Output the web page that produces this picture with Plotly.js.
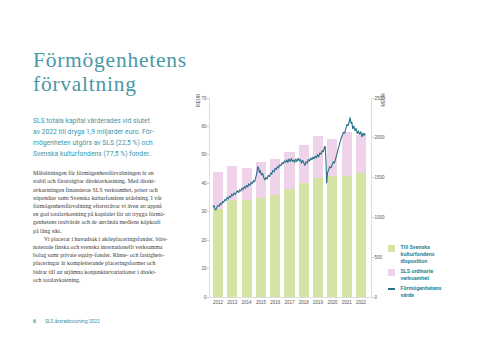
<!DOCTYPE html>
<html>
<head>
<meta charset="utf-8">
<script src="https://cdn.plot.ly/plotly-3.0.1.min.js"></script>
<style>
  html, body { margin:0; padding:0; background:#fff; }
  #page { position:relative; width:480px; height:340px; overflow:hidden; background:#fff; }
  #chart { position:absolute; left:0; top:0; width:480px; height:340px; }
  .title { position:absolute; left:33px; font-family:"Liberation Serif", serif; font-size:21.5px; line-height:normal; color:#4a98a5; letter-spacing:0.75px; white-space:nowrap; }
  .intro { position:absolute; left:33px; top:115.5px; font-family:Roboto, sans-serif; font-size:6.7px; line-height:11.2px; color:#3a96a8; white-space:nowrap; letter-spacing:0.05px; }
  .body { position:absolute; left:33px; top:169.2px; font-family:"Liberation Serif", serif; font-size:5.9px; line-height:8.2px; color:#3a3a3a; white-space:nowrap; }
  .footer { position:absolute; left:33px; top:318px; font-family:Roboto, sans-serif; font-size:5px; color:#3a96a8; white-space:nowrap; }
  .legend { position:absolute; left:388px; top:244px; font-family:Roboto, sans-serif; font-size:5.4px; line-height:7px; font-weight:bold; color:#2a8799; }
  .li { position:relative; padding-left:12.5px; margin-bottom:3px; white-space:nowrap; }
  .sw { position:absolute; left:0; top:1px; width:7px; height:7px; }
  .ln { position:absolute; left:0; top:3px; width:7px; height:1.6px; }
</style>
</head>
<body>
<div id="page">
  <div id="chart"></div>
  <div class="title" style="top:47.5px">Förmögenhetens</div>
  <div class="title" style="top:71.6px">förvaltning</div>
  <div class="intro">SLS totala kapital värderades vid slutet<br>av 2022 till dryga 1,9 miljarder euro. För-<br>mögenheten utgörs av SLS (22,5 %) och<br>Svenska kulturfondens (77,5 %) fonder.</div>
  <div class="body">Målsättningen för förmögenhetsförvaltningen är en<br>stabil och förutsägbar direktavkastning. Med direkt-<br>avkastningen finansieras SLS verksamhet, priser och<br>stipendier samt Svenska kulturfondens utdelning. I vår<br>förmögenhetsförvaltning eftersträvar vi även att uppnå<br>en god totalavkastning på kapitalet för att trygga förmö-<br>genhetens realvärde och de använda medlens köpkraft<br>på lång sikt.<br><span style="padding-left:11px">Vi placerar i huvudsak i aktieplaceringsfonder, börs-</span><br>noterade finska och svenska internationellt verksamma<br>bolag samt private equity-fonder. Ränte- och fastighets-<br>placeringar är kompletterande placeringsformer och<br>bidrar till att utjämna konjunkturvariationer i direkt-<br>och totalavkastning.</div>
  <div class="footer"><b>6</b><span style="padding-left:9px">SLS årsredovisning 2022</span></div>
  <div class="legend" id="legend"></div>
</div>
<script>
// Bars (MEUR, left axis)
const years = [2012, 2013, 2014, 2015, 2016, 2017, 2018, 2019, 2020, 2021, 2022];
const kulturfonden = [31, 34, 34, 35, 36, 38, 40, 42, 42.5, 42.5, 43.5];
const slsOrdinarie = [13, 12, 11.5, 12.5, 12.5, 13, 13.5, 14.5, 13, 15.5, 13.5];

// Wealth value (MEUR, right axis)
const valueX = [2011.65,2011.72,2011.78,2011.85,2011.92,2012.0,2012.08,2012.16,2012.24,2012.32,2012.4,2012.48,2012.56,2012.64,2012.72,2012.8,2012.88,2012.96,2013.04,2013.12,2013.2,2013.28,2013.36,2013.44,2013.52,2013.6,2013.68,2013.76,2013.84,2013.92,2014.0,2014.08,2014.16,2014.24,2014.32,2014.4,2014.48,2014.56,2014.64,2014.72,2014.78,2014.84,2014.9,2014.96,2015.04,2015.12,2015.2,2015.28,2015.36,2015.44,2015.52,2015.6,2015.68,2015.76,2015.84,2015.92,2016.0,2016.08,2016.16,2016.24,2016.32,2016.4,2016.48,2016.56,2016.64,2016.72,2016.8,2016.88,2016.96,2017.04,2017.12,2017.2,2017.28,2017.36,2017.44,2017.52,2017.6,2017.68,2017.76,2017.84,2017.92,2018.0,2018.08,2018.16,2018.24,2018.32,2018.4,2018.48,2018.56,2018.64,2018.72,2018.8,2018.88,2018.96,2019.04,2019.12,2019.2,2019.28,2019.36,2019.44,2019.5,2019.55,2019.6,2019.66,2019.74,2019.82,2019.9,2019.98,2020.06,2020.14,2020.22,2020.3,2020.38,2020.46,2020.54,2020.62,2020.7,2020.78,2020.86,2020.94,2021.02,2021.1,2021.18,2021.24,2021.3,2021.36,2021.42,2021.5,2021.58,2021.66,2021.74,2021.82,2021.9,2021.98,2022.06,2022.14,2022.22,2022.3];
const valueY = [1130,1150,1105,1095,1130,1150,1140,1175,1165,1200,1190,1225,1215,1250,1235,1265,1255,1290,1275,1305,1290,1320,1335,1310,1345,1330,1365,1350,1385,1370,1400,1385,1420,1405,1440,1425,1460,1445,1490,1560,1640,1620,1560,1590,1530,1555,1500,1470,1500,1480,1530,1510,1560,1545,1590,1575,1620,1600,1640,1625,1660,1650,1690,1670,1710,1690,1725,1690,1735,1700,1740,1705,1720,1690,1735,1700,1745,1710,1730,1680,1720,1690,1650,1700,1680,1730,1705,1750,1720,1760,1735,1770,1745,1790,1760,1810,1790,1840,1820,1880,1895,1700,1430,1560,1600,1640,1620,1680,1700,1680,1740,1760,1830,1900,1950,2000,2040,2070,2060,2130,2170,2150,2230,2255,2180,2200,2110,2150,2090,2120,2050,2090,2040,2080,2010,2060,2030,2060];

const leftTicks = [0, 10, 20, 30, 40, 50, 60, 70];
const rightTicks = [0, 500, 1000, 1500, 2000, 2500];
const unitLabel = 'MEUR';
const seriesNames = ['Till Svenska<br>kulturfondens<br>disposition', 'SLS ordinarie<br>verksamhet', 'Förmögenhetens<br>värde'];
const colors = {green:'#d5e4a4', pink:'#eed3ea', line:'#2b7089'};

const tickFont = {family:'Liberation Sans, sans-serif', size:4.5, color:'#555'};

const traces = [
  {type:'bar', x:years, y:kulturfonden, name:'Till Svenska kulturfondens disposition', marker:{color:colors.green}, width:0.7, hoverinfo:'skip'},
  {type:'bar', x:years, y:slsOrdinarie, name:'SLS ordinarie verksamhet', marker:{color:colors.pink}, width:0.7, hoverinfo:'skip'},
  {type:'scatter', mode:'lines', x:valueX, y:valueY, yaxis:'y2', name:'Förmögenhetens värde', line:{color:colors.line, width:1.1}, hoverinfo:'skip'}
];

const layout = {
  width:480, height:340,
  margin:{l:210, r:109, t:98, b:43, pad:0},
  paper_bgcolor:'rgba(0,0,0,0)', plot_bgcolor:'rgba(0,0,0,0)',
  barmode:'stack', showlegend:false,
  xaxis:{range:[2011.44, 2022.7], tickvals:years, ticktext:years.map(String), tickfont:tickFont, ticks:'', showgrid:false, zeroline:false, showline:true, linecolor:'#c8c8c8', linewidth:0.6, fixedrange:true, ticklabelstandoff:1},
  yaxis:{range:[0,70], tickvals:leftTicks, tickfont:tickFont, ticks:'outside', ticklen:2, tickwidth:0.5, tickcolor:'#999', showgrid:false, zeroline:false, showline:true, linecolor:'#c8c8c8', linewidth:0.6, fixedrange:true},
  yaxis2:{range:[0,2500], tickvals:rightTicks, tickfont:tickFont, overlaying:'y', side:'right', ticks:'outside', ticklen:2, tickwidth:0.5, tickcolor:'#999', showgrid:false, zeroline:false, showline:true, linecolor:'#c8c8c8', linewidth:0.6, fixedrange:true},
  annotations:[
    {xref:'paper', yref:'paper', x:-0.068, y:0.99, text:unitLabel, textangle:-90, showarrow:false, font:{family:'Liberation Sans, sans-serif', size:4.5, color:'#555'}, xanchor:'center', yanchor:'middle'},
    {xref:'paper', yref:'paper', x:1.078, y:0.99, text:unitLabel, textangle:-90, showarrow:false, font:{family:'Liberation Sans, sans-serif', size:4.5, color:'#555'}, xanchor:'center', yanchor:'middle'}
  ]
};

Plotly.newPlot('chart', traces, layout, {displayModeBar:false, staticPlot:true});

// Custom legend (HTML)
const leg = document.getElementById('legend');
const swatches = [
  '<span class="sw" style="background:' + colors.green + '"></span>',
  '<span class="sw" style="background:' + colors.pink + '"></span>',
  '<span class="ln" style="background:' + colors.line + '"></span>'
];
leg.innerHTML = seriesNames.map((n, i) => '<div class="li">' + swatches[i] + n + '</div>').join('');
</script>
</body>
</html>
